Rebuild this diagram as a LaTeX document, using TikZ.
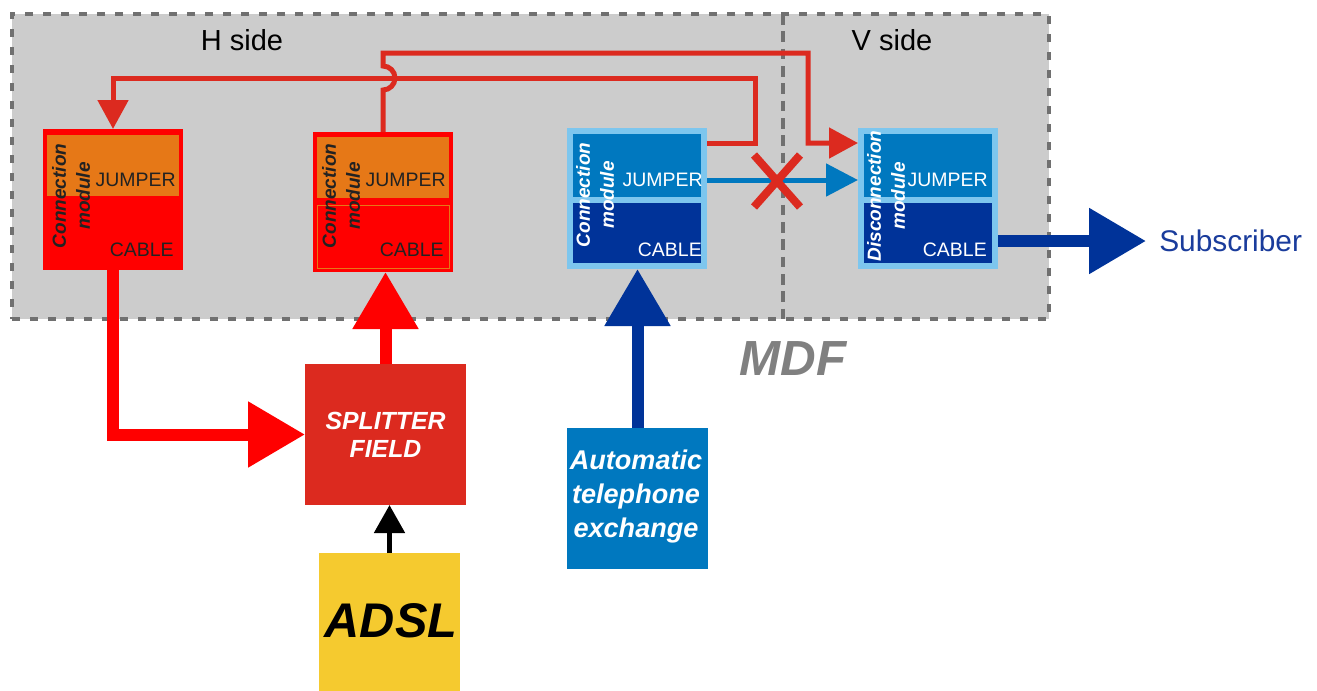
\documentclass[tikz,border=0pt]{standalone}
\usepackage{fontspec}
\setmainfont{Liberation Sans}
\usetikzlibrary{arrows.meta,calc}
\definecolor{wirered}{HTML}{DC2A1F}
\definecolor{purered}{HTML}{FF0000}
\definecolor{jorange}{HTML}{E67817}
\definecolor{lblue}{HTML}{7DC6EE}
\definecolor{mblue}{HTML}{0078BF}
\definecolor{navy}{HTML}{003399}
\definecolor{mdfgray}{HTML}{CCCCCC}
\definecolor{dashgray}{HTML}{707070}
\definecolor{adslyellow}{HTML}{F5CA2F}
\definecolor{txtdark}{HTML}{222222}
\definecolor{subblue}{HTML}{1A3C9C}
\newcommand{\fsz}[2]{\fontsize{#1}{#2}\selectfont}
\begin{document}
\begin{tikzpicture}[x=0.75pt,y=-0.75pt,
  blk/.style={inner sep=0pt,outer sep=0pt,draw=none},
  modbox/.style={blk,minimum width=105pt,minimum height=105.75pt},
  jbox/.style={blk,minimum width=99pt,minimum height=45.75pt},
  bjbox/.style={blk,minimum width=96pt,minimum height=47.25pt},
  bcbox/.style={blk,minimum width=96pt,minimum height=45pt},
  rot/.style={inner sep=0pt,rotate=90,align=center,font=\fsz{14.25pt}{18pt}\bfseries\itshape},
  lab/.style={inner sep=0pt,anchor=east,font=\fsz{14.6pt}{17pt}},
  wire/.style={draw=wirered,line width=3.75pt},
  bwire/.style={draw=mblue,line width=3.75pt},
  smalltip/.style={-{Triangle[length=21.75pt,width=22.5pt]}},
  bigtip/.style={-{Triangle[length=42.75pt,width=47.25pt]}},
  fatred/.style={draw=purered,line width=9pt,bigtip},
  fatblue/.style={draw=navy,line width=9pt,bigtip},
  side/.style={inner sep=0pt,anchor=base,font=\fsz{21.75pt}{26pt}}
]
\useasboundingbox[fill=white] (0,0) rectangle (1317,690);

% MDF frame
\node[blk,fill=mdfgray,draw=dashgray,line width=3pt,dash pattern=on 6pt off 7.5pt,
  minimum width=777.75pt,minimum height=228.75pt] (mdf) at (530.5,166.5) {};
\coordinate (divtop) at (783,14);
\coordinate (divbot) at (783,319);
\draw[dashgray,line width=2.6pt,dash pattern=on 8pt off 5pt] (divtop) -- (divbot);

\node[side] (hside) at (242,50) {H side};
\node[side] (vside) at (892,50) {V side};
\node[inner sep=0pt,anchor=base,text=gray,font=\fsz{37pt}{40pt}\bfseries\itshape] (mdflabel) at (793,375) {MDF};

% Module 1
\node[modbox,fill=purered] (m1) at (113,199.5) {};
\node[jbox,fill=jorange] (m1j) at (113,165.5) {};
% Module 2
\node[modbox,fill=purered,minimum height=105pt] (m2) at (383,202) {};
\node[jbox,fill=jorange] (m2j) at (383,167.5) {};
\node[blk,fill=purered,draw=jorange,line width=0.6pt,minimum width=99pt,minimum height=47.25pt] (m2c) at (383,236.5) {};
% Module 3
\node[modbox,fill=lblue] (m3) at (637,198.5) {};
\node[bjbox,fill=mblue] (m3j) at (637,165.5) {};
\node[bcbox,fill=navy] (m3c) at (637,233) {};
% Module 4
\node[modbox,fill=lblue] (m4) at (928,198.5) {};
\node[bjbox,fill=mblue] (m4j) at (928,165.5) {};
\node[bcbox,fill=navy] (m4c) at (928,233) {};

% module texts
\node[rot,text=txtdark] (m1t) at (71,196) {Connection\\module};
\node[rot,text=txtdark] (m2t) at (341,196) {Connection\\module};
\node[rot,text=white] (m3t) at (595,195) {Connection\\module};
\node[rot,text=white] (m4t) at (886,196) {Disconnection\\module};
\node[lab,text=txtdark] (m1jl) at (176,180) {JUMPER};
\node[lab,text=txtdark] (m1cl) at (174,250) {CABLE};
\node[lab,text=txtdark] (m2jl) at (446,180) {JUMPER};
\node[lab,text=txtdark] (m2cl) at (444,250) {CABLE};
\node[lab,text=white] (m3jl) at (703,180) {JUMPER};
\node[lab,text=white] (m3cl) at (702,250) {CABLE};
\node[lab,text=white] (m4jl) at (988,180) {JUMPER};
\node[lab,text=white] (m4cl) at (987,250) {CABLE};

% lower boxes
\node[blk,fill=wirered,minimum width=120.75pt,minimum height=105.75pt,text=white,
  align=center,font=\fsz{18.6pt}{21pt}\bfseries\itshape] (spl) at (385.5,434.5) {SPLITTER\\FIELD};
\node[blk,fill=adslyellow,minimum width=105.75pt,minimum height=117.75pt] (adsl) at (389.5,631.5) {};
\node[inner sep=0pt,anchor=base,font=\fsz{36.5pt}{40pt}\bfseries\itshape] (adsltext) at (391,637) {ADSL};
\node[blk,fill=mblue,minimum width=105.75pt,minimum height=105.75pt] (ate) at (637.5,498.5) {};
\node[inner sep=0pt,text=white,align=center,font=\fsz{20.3pt}{25.5pt}\bfseries\itshape] (atetext) at (636,496) {Automatic\\telephone\\exchange};
\node[inner sep=0pt,anchor=west,text=subblue,font=\fsz{22.4pt}{26pt}] (sub) at (1159,241) {Subscriber};

% thin wires
\draw[wire,smalltip] (m2.north) -- (383,90) arc[start angle=-90,end angle=90,radius=9pt]
  -- (383,53) -- (808,53) -- (808,143) -- (m4.west |- 0,143);
\draw[wire,smalltip] (m3.east |- 0,143) -- (755,143) -- (755,78) -- (m1.north |- 0,78) -- (m1.north);
\draw[bwire,-{Triangle[length=24pt,width=24pt]}] (m3.east |- 0,180) -- (m4.west |- 0,180);
\draw[wirered,line width=6pt] (754,155) -- (800,207) (754,207) -- (800,155);

% thick arrows
\draw[fatred] (m1.south) |- (spl.west);
\draw[fatred] (spl.north) -- (spl.north |- m2.south);
\draw[fatblue] (ate.north) -- (ate.north |- m3.south);
\draw[fatblue,shorten >=9.75pt] (m4.east |- sub.west) -- (sub.west);
\draw[black,line width=3.75pt,-{Triangle[length=21pt,width=22.5pt]}] (adsl.north) -- (adsl.north |- spl.south);
\end{tikzpicture}
\end{document}
